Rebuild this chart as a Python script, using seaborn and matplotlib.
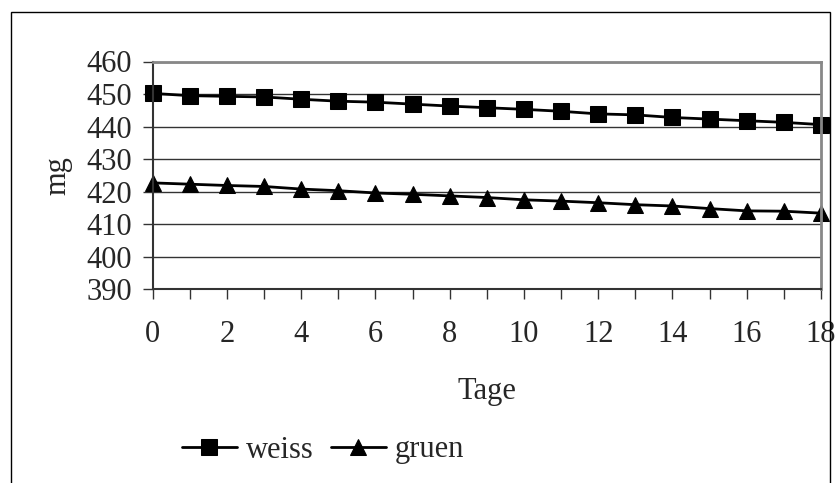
import numpy as np
import pandas as pd
import matplotlib
matplotlib.use("Agg")
import matplotlib.pyplot as plt
import seaborn as sns
from matplotlib.patches import Rectangle

# values
tage = list(range(19))
weiss = [450.2, 449.5, 449.3, 449.1, 448.4, 447.8, 447.5, 446.9, 446.3, 445.8,
         445.3, 444.7, 443.9, 443.6, 442.8, 442.3, 441.8, 441.3, 440.6]
gruen = [422.7, 422.3, 421.9, 421.6, 420.8, 420.3, 419.6, 419.2, 418.7, 418.2,
         417.5, 417.1, 416.6, 416.0, 415.6, 414.8, 414.1, 414.0, 413.4]
series_names = ["weiss", "gruen"]
y_ticks = [390, 400, 410, 420, 430, 440, 450, 460]

df = pd.DataFrame({
    "Tage": tage * 2,
    "mg": weiss + gruen,
    "serie": ["weiss"] * len(tage) + ["gruen"] * len(tage),
})

sns.set_style("white")
plt.rcParams["font.family"] = ["Liberation Serif", "DejaVu Serif"]
fs = 22

fig = plt.figure(figsize=(8.4, 4.83), dpi=100)
ax = fig.add_axes([152.7 / 840, 1 - 289.3 / 483, (821 - 152.7) / 840, (289.3 - 61.5) / 483])

sns.lineplot(
    data=df, x="Tage", y="mg", hue="serie", style="serie",
    palette={"weiss": "black", "gruen": "black"},
    markers={"weiss": "s", "gruen": "^"}, dashes=False,
    linewidth=2, markersize=11, markeredgecolor="black",
    ax=ax, legend=True,
)

ax.set_xlim(0, 18)
ax.set_ylim(390, 460)
ax.set_yticks(y_ticks)
ax.set_xticks(tage)
ax.set_xticklabels([str(t) if t % 2 == 0 else "" for t in tage])
ax.yaxis.grid(True, color="#333333", linewidth=1)
ax.set_axisbelow(True)
for m in ax.lines:
    m.set_clip_on(False)

ax.tick_params(axis="both", labelsize=fs, direction="out", length=7, width=1,
               color="#333333", left=True, bottom=True)
ax.tick_params(axis="y", pad=8)
ax.tick_params(axis="x", pad=15)

for side in ["top", "right"]:
    ax.spines[side].set_color("#888888")
    ax.spines[side].set_linewidth(2)
for side in ["left", "bottom"]:
    ax.spines[side].set_color("#333333")
    ax.spines[side].set_linewidth(1.5)

ax.set_xlabel("Tage", fontsize=fs, labelpad=20)
ax.set_ylabel("mg", fontsize=fs, labelpad=10)

handles, labels = ax.get_legend_handles_labels()
ax.get_legend().remove()
fig.legend(handles, labels, loc="center", bbox_to_anchor=(323 / 840, 1 - 450 / 483),
           ncol=2, frameon=False, fontsize=fs, handlelength=1.8,
           handletextpad=0.3, columnspacing=0.55)

fig.patches.append(Rectangle((11 / 840, -0.1), (830 - 11) / 840, 1.1 - 12 / 483,
                             transform=fig.transFigure, fill=False,
                             edgecolor="black", linewidth=1))

fig.savefig("out.png", dpi=100)
